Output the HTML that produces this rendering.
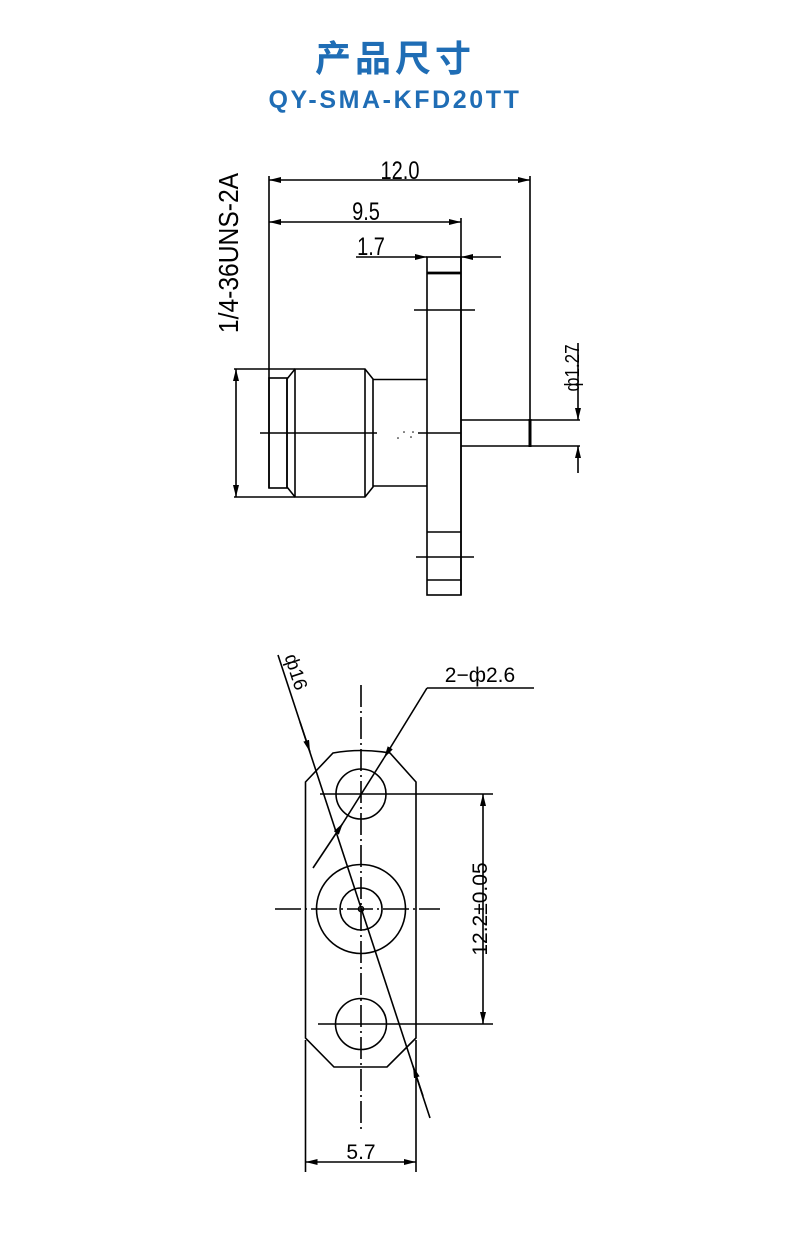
<!DOCTYPE html>
<html><head><meta charset="utf-8"><style>
html,body{margin:0;padding:0;background:#fff;}
body{width:790px;height:1255px;position:relative;overflow:hidden;}
.t1{position:absolute;left:0;width:790px;text-align:center;top:30px;font:bold 36px "Liberation Sans","Noto Sans CJK SC",sans-serif;color:#1f6db5;letter-spacing:4px;}
.t2{position:absolute;left:0;width:790px;text-align:center;top:86px;font:bold 25px "Liberation Sans",sans-serif;color:#1f6db5;letter-spacing:2.6px;}
svg{position:absolute;left:0;top:0;}
text{font-family:"Liberation Sans",sans-serif;fill:#000;}
</style></head><body>
<div class="t1">产品尺寸</div>
<div class="t2">QY-SMA-KFD20TT</div>
<svg width="790" height="1255" viewBox="0 0 790 1255">
<defs>
<marker id="a" viewBox="0 0 12 6" refX="12" refY="3" markerWidth="12" markerHeight="6" orient="auto-start-reverse" markerUnits="userSpaceOnUse"><path d="M0,0L12,3L0,6z" fill="#000"/></marker>
</defs>
<g stroke="#000" stroke-width="1.6" fill="none">
<line x1="269" y1="180" x2="530" y2="180" marker-start="url(#a)" marker-end="url(#a)"/>
<line x1="269" y1="176" x2="269" y2="488"/>
<line x1="530" y1="176" x2="530" y2="446"/>
<line x1="269" y1="222" x2="461" y2="222" marker-start="url(#a)" marker-end="url(#a)"/>
<line x1="461" y1="218" x2="461" y2="595"/>
<line x1="356" y1="257" x2="427" y2="257" marker-end="url(#a)"/>
<line x1="501" y1="257" x2="461" y2="257" marker-end="url(#a)"/>
<rect x="427" y="257" width="34" height="338"/>
<line x1="427" y1="273" x2="461" y2="273" stroke-width="2.8"/>
<line x1="427" y1="532" x2="461" y2="532"/>
<line x1="427" y1="580" x2="461" y2="580"/>
<line x1="414" y1="310" x2="475" y2="310"/>
<line x1="416" y1="557" x2="474" y2="557"/>
<rect x="269" y="378" width="18" height="110"/>
<path d="M295,369 L365,369 L373,379 L373,487 L365,497 L295,497 L287,487 L287,379 Z"/>
<line x1="295" y1="369" x2="295" y2="497"/>
<line x1="365" y1="369" x2="365" y2="497"/>
<path d="M373,379.5 L427,379.5 M373,486 L427,486"/>
<line x1="260" y1="433" x2="377" y2="433"/>
<line x1="418" y1="433" x2="461" y2="433"/>
<path d="M461,420 L530,420 L530,446 L461,446"/>
<line x1="530" y1="419" x2="530" y2="447" stroke-width="3"/>
<line x1="530" y1="420" x2="580" y2="420"/>
<line x1="530" y1="446" x2="580" y2="446"/>
<line x1="578" y1="343" x2="578" y2="420" marker-end="url(#a)"/>
<line x1="578" y1="473" x2="578" y2="446" marker-end="url(#a)"/>
<line x1="234" y1="369" x2="295" y2="369"/>
<line x1="234" y1="497" x2="295" y2="497"/>
<line x1="236" y1="369" x2="236" y2="497" marker-start="url(#a)" marker-end="url(#a)"/>
</g>
<g fill="#000">
<circle cx="398" cy="438" r="0.8"/><circle cx="404" cy="432" r="0.8"/><circle cx="411" cy="437" r="0.8"/><circle cx="413" cy="432" r="0.8"/>
</g>
<g font-size="25">
<text transform="translate(400 179) scale(0.8 1)" text-anchor="middle">12.0</text>
<text transform="translate(366 220) scale(0.8 1)" text-anchor="middle">9.5</text>
<text transform="translate(371 255) scale(0.8 1)" text-anchor="middle">1.7</text>
<text transform="translate(238 253) rotate(-90) scale(0.88 1)" text-anchor="middle" font-size="28">1/4-36UNS-2A</text>
<text transform="translate(579 368) rotate(-90) scale(0.85 1)" text-anchor="middle" font-size="20">ф1.27</text>
</g>
<g stroke="#000" stroke-width="1.6" fill="none">
<path d="M305.5,782 L333,753 Q361,748 390,753 L416,782 L416,1038 L387,1067 L334,1067 L305.5,1038 Z"/>
<circle cx="361" cy="794" r="25"/>
<circle cx="361" cy="909" r="44.5"/>
<circle cx="361" cy="909" r="21"/>
<circle cx="361" cy="909" r="2.5"/>
<circle cx="361" cy="1024" r="25.5"/>
<line x1="361" y1="685" x2="361" y2="1132" stroke-dasharray="22,4,2,4"/>
<line x1="275" y1="909" x2="440" y2="909" stroke-dasharray="26,4,2,4"/>
<line x1="320" y1="794" x2="493" y2="794"/>
<line x1="318" y1="1024" x2="493" y2="1024"/>
<line x1="483" y1="794" x2="483" y2="1024" marker-start="url(#a)" marker-end="url(#a)"/>
<line x1="305.5" y1="1040" x2="305.5" y2="1172"/>
<line x1="416" y1="1040" x2="416" y2="1172"/>
<line x1="305.5" y1="1162" x2="416" y2="1162" marker-start="url(#a)" marker-end="url(#a)"/>
<line x1="278" y1="655" x2="430" y2="1118"/>
<line x1="300" y1="722" x2="310" y2="752" marker-end="url(#a)"/>
<line x1="423" y1="1096" x2="413" y2="1066" marker-end="url(#a)"/>
<line x1="427" y1="688" x2="534" y2="688"/>
<line x1="427" y1="688" x2="384" y2="758" marker-end="url(#a)"/>
<line x1="313" y1="868" x2="343" y2="823" marker-end="url(#a)"/>
<line x1="384" y1="758" x2="343" y2="823"/>
</g>
<g font-size="21">
<text x="480" y="682" text-anchor="middle">2−ф2.6</text>
<text x="361" y="1159" text-anchor="middle">5.7</text>
<text transform="translate(487 909) rotate(-90)" text-anchor="middle">12.2±0.05</text>
<text transform="translate(290 674) rotate(72)" text-anchor="middle" font-size="19">ф16</text>
</g>
</svg>
</body></html>
